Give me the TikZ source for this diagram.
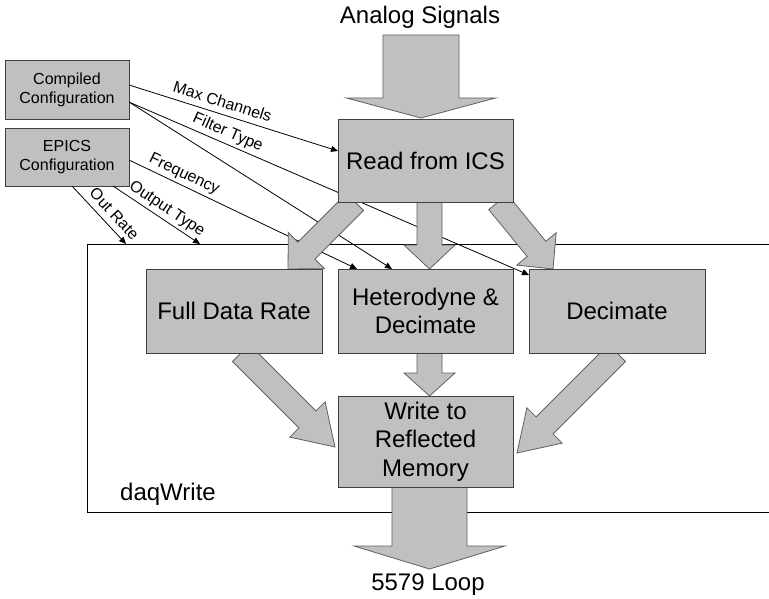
\documentclass[tikz,border=0pt]{standalone}
\usepackage{fontspec}
\setmainfont{Liberation Sans}
\usetikzlibrary{calc,arrows.meta}
\definecolor{boxgray}{RGB}{192,192,192}
\definecolor{boxline}{RGB}{64,64,64}
\definecolor{arrline}{RGB}{96,96,96}
\newcommand{\blockarr}[5]{%
  \coordinate (hb) at ($(#2)!#5!(#1)$);
  \draw[barrow] ($(#1)!#3!90:(#2)$) -- ($(hb)!#3!-90:(#1)$) -- ($(hb)!#4!-90:(#1)$) -- (#2)
     -- ($(hb)!#4!90:(#1)$) -- ($(hb)!#3!90:(#1)$) -- ($(#1)!#3!-90:(#2)$) -- cycle;
}
\begin{document}
\begin{tikzpicture}[x=1pt,y=-1pt,
  gbox/.style={draw=boxline, fill=boxgray, line width=0.9pt, inner sep=0pt, align=center,
    font=\fontsize{24}{28.5}\selectfont},
  sbox/.style={gbox, font=\fontsize{16}{19}\selectfont},
  barrow/.style={draw=arrline, fill=boxgray, line width=0.8pt, line join=miter},
  thin/.style={draw=black, line width=0.8pt, -{Triangle[length=7pt,width=6pt]}},
  lbl/.style={font=\fontsize{16}{19}\selectfont, inner sep=0pt, sloped, above=3pt,
    text height=11.5pt, text depth=3.3pt},
  big/.style={font=\fontsize{24}{28.5}\selectfont, inner sep=0pt}
]
\useasboundingbox (0,0) rectangle (769,599);
\clip (0,0) rectangle (769,599);
\fill[white] (0,0) rectangle (769,599);

% container
\node[draw=black, line width=0.8pt, minimum width=703pt, minimum height=268pt, inner sep=0pt,
      anchor=north west] (frame) at (87,244) {};
\node[big, anchor=west] (daq) at (120,494) {daqWrite};

% text labels
\node[big] (analog) at (420,17) {Analog Signals};
\node[big] (loop) at (428,585) {5579 Loop};

% configuration boxes
\node[sbox, minimum width=124pt, minimum height=59pt] (comp) at (67,89.5) {Compiled\\Configuration};
\node[sbox, minimum width=124pt, minimum height=58pt] (epics) at (67,157) {EPICS\\Configuration};

% connector end points
\coordinate (c1) at (129,85);
\coordinate (c2) at (129,102);
\coordinate (e1) at (129,160);
\coordinate (e2) at (113,186);
\coordinate (e3) at (72,186);
\coordinate (t1) at (338,151);
\coordinate (t2) at (529,275);
\coordinate (t3) at (392,269);
\coordinate (t4) at (357,269);
\coordinate (t5) at (200,244);
\coordinate (t6) at (126,244);

\draw[thin] (c1) -- node[lbl, pos=0.43] {Max Channels} (t1);
\draw[thin] (c2) -- node[lbl, pos=0.236] {Filter Type} (t2);
\draw[thin] (c2) -- (t3);
\draw[thin] (e1) -- node[lbl, pos=0.222] {Frequency} (t4);
\draw[thin] (e2) -- node[lbl, pos=0.55] {Output Type} (t5);
\draw[thin] (e3) -- node[lbl, pos=0.62] {Out Rate} (t6);

% block arrows
\coordinate (a1s) at (421,35);   \coordinate (a1t) at (421,118);
\coordinate (a2s) at (429.5,202); \coordinate (a2t) at (429.5,269);
\coordinate (a3s) at (429.5,353); \coordinate (a3t) at (429.5,396);
\coordinate (a4s) at (355,202);  \coordinate (a4t) at (288,269);
\coordinate (a5s) at (498,202);  \coordinate (a5t) at (553,269);
\coordinate (a6s) at (241,353);  \coordinate (a6t) at (335,447);
\coordinate (a7s) at (617,353);  \coordinate (a7t) at (517,453);
\coordinate (a8s) at (429.5,487); \coordinate (a8t) at (429.5,569);

\blockarr{a1s}{a1t}{38pt}{74.5pt}{20pt}
\blockarr{a2s}{a2t}{12.5pt}{25.5pt}{24pt}
\blockarr{a3s}{a3t}{12.5pt}{25.5pt}{23pt}
\blockarr{a4s}{a4t}{12pt}{25.5pt}{26pt}
\blockarr{a5s}{a5t}{12pt}{25.5pt}{26pt}
\blockarr{a6s}{a6t}{12pt}{25pt}{39pt}
\blockarr{a7s}{a7t}{12pt}{25pt}{39pt}
\blockarr{a8s}{a8t}{37.5pt}{75.5pt}{23pt}

% main boxes
\node[gbox, minimum width=175pt, minimum height=83pt] (read) at (425.5,160.5) {Read from ICS};
\node[gbox, minimum width=176pt, minimum height=84pt] (fdr) at (234,311) {Full Data Rate};
\node[gbox, minimum width=175pt, minimum height=84pt] (het) at (425.5,311) {Heterodyne \&\\Decimate};
\node[gbox, minimum width=176pt, minimum height=84pt] (dec) at (617,311) {Decimate};
\node[gbox, minimum width=175pt, minimum height=91pt] (write) at (425.5,441.5) {Write to\\Reflected\\Memory};
\end{tikzpicture}
\end{document}
